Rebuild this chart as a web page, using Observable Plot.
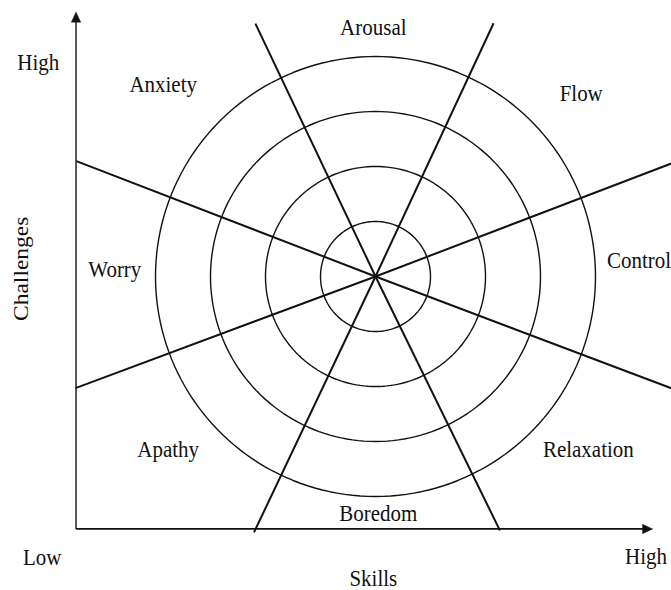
<!DOCTYPE html>
<html><head><meta charset="utf-8">
<script src="https://cdn.jsdelivr.net/npm/d3@7"></script>
<script src="https://cdn.jsdelivr.net/npm/@observablehq/plot@0.6"></script>
<style>html,body{margin:0;padding:0;background:#fff}</style>
</head><body><div id="chart"></div>
<script>
// Diagram units: center of the rings = (0,0), ring spacing = 1 unit
const ringRadii = [1, 2, 3, 4];
const rayAngles = [65.0, 244.6, 115.4, 296.1, 158.9, 339.3, 20.9, 200.4];
const rayLengths = [5.08, 5.15, 5.09, 5.14, 5.83, 5.95, 5.95, 5.82];

const regionNames = ["Arousal", "Anxiety", "Flow", "Worry", "Apathy", "Relaxation", "Boredom"];
const regionSkill = [-0.04, -3.86, 3.74, -4.74, -3.77, 3.87, 0.05];
const regionChallenge = [4.40, 3.35, 3.20, 0.00, -3.29, -3.29, -4.44];
const controlName = "Control";
const controlPos = [4.21, 0.16];

const axisOrigin = [-5.445, -4.59];
const skillsMax = 5.036;
const challengesMax = 4.805;

const tickNames = ["High", "Low", "High", "Skills"];
const tickSkill = [-6.13, -6.06, 4.92, -0.04];
const tickChallenge = [3.75, -5.24, -5.22, -5.62];
const yTitle = "Challenges";
const yTitlePos = [-6.32, 0.14];

const ink = "#111";
const font = "Liberation Serif, Times New Roman, serif";
const fs = 21;

const circles = ringRadii.flatMap(r => d3.range(0, 361, 2).map(a => ({r, x: r * Math.cos(a * Math.PI / 180), y: r * Math.sin(a * Math.PI / 180)})));
const rays = rayAngles.map((a, i) => ({x2: rayLengths[i] * Math.cos(a * Math.PI / 180), y2: rayLengths[i] * Math.sin(a * Math.PI / 180)}));
const regions = regionNames.map((t, i) => ({t, x: regionSkill[i], y: regionChallenge[i]}));
const ticks = tickNames.map((t, i) => ({t, x: tickSkill[i], y: tickChallenge[i]}));

const headLen = 0.18, headHalf = 0.085;
const xHead = [
  {x: skillsMax, y: axisOrigin[1]},
  {x: skillsMax - headLen, y: axisOrigin[1] + headHalf},
  {x: skillsMax - headLen, y: axisOrigin[1] - headHalf},
  {x: skillsMax, y: axisOrigin[1]}
];
const yHead = [
  {x: axisOrigin[0], y: challengesMax},
  {x: axisOrigin[0] - headHalf, y: challengesMax - headLen},
  {x: axisOrigin[0] + headHalf, y: challengesMax - headLen},
  {x: axisOrigin[0], y: challengesMax}
];

const chart = Plot.plot({
  width: 671, height: 590, margin: 0,
  x: {domain: [-375 / 55, 296 / 55], axis: null},
  y: {domain: [-314 / 55, 276 / 55], axis: null},
  style: {background: "#fff"},
  marks: [
    Plot.line(circles, {x: "x", y: "y", z: "r", stroke: ink, strokeWidth: 1.4}),
    Plot.link(rays, {x1: () => 0, y1: () => 0, x2: "x2", y2: "y2", stroke: ink, strokeWidth: 2}),
    Plot.link([{}], {x1: () => axisOrigin[0], y1: () => axisOrigin[1], x2: () => skillsMax - headLen * 0.5, y2: () => axisOrigin[1], stroke: ink, strokeWidth: 1.8}),
    Plot.link([{}], {x1: () => axisOrigin[0], y1: () => axisOrigin[1], x2: () => axisOrigin[0], y2: () => challengesMax - headLen * 0.5, stroke: ink, strokeWidth: 1.4}),
    Plot.line(xHead, {x: "x", y: "y", fill: ink, stroke: ink, strokeWidth: 0.5}),
    Plot.line(yHead, {x: "x", y: "y", fill: ink, stroke: ink, strokeWidth: 0.5}),
    Plot.text(regions, {x: "x", y: "y", text: "t", fontSize: fs, fontFamily: font, fill: ink, lineAnchor: "bottom", textAnchor: "middle", className: "hlabel"}),
    Plot.text([controlName], {x: () => controlPos[0], y: () => controlPos[1], text: d => d, fontSize: fs, fontFamily: font, fill: ink, lineAnchor: "bottom", textAnchor: "start", className: "hlabel"}),
    Plot.text(ticks, {x: "x", y: "y", text: "t", fontSize: fs, fontFamily: font, fill: ink, lineAnchor: "bottom", textAnchor: "middle", className: "hlabel"}),
    Plot.text([yTitle], {x: () => yTitlePos[0], y: () => yTitlePos[1], text: d => d, rotate: -90, fontSize: 23.5, fontFamily: font, fill: ink, lineAnchor: "bottom", textAnchor: "middle", className: "vlabel"})
  ]
});
// the reference glyphs are slightly taller than Liberation Serif: stretch around the baseline
d3.select(chart).selectAll(".hlabel text").each(function () {
  const t = this.getAttribute("transform") || "";
  this.setAttribute("transform", t + " scale(1,1.08)");
});
d3.select(chart).selectAll(".vlabel text").each(function () {
  const t = this.getAttribute("transform") || "";
  this.setAttribute("transform", t + " scale(1,0.92)");
});
document.getElementById("chart").appendChild(chart);
</script>
</body></html>
